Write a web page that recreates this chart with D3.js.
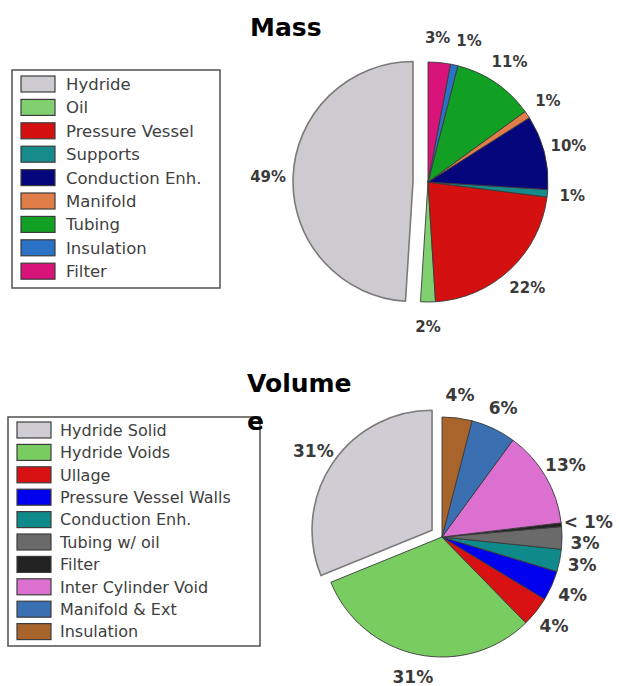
<!DOCTYPE html>
<html>
<head>
<meta charset="utf-8">
<script src="https://cdn.jsdelivr.net/npm/d3@7"></script>
<style>
  html, body { margin: 0; padding: 0; background: #fff; }
  svg { display: block; }
</style>
</head>
<body>
<svg id="chart" width="619" height="686"></svg>
<script>
// Mass breakdown (percent)
const massCategories = ["Hydride", "Oil", "Pressure Vessel", "Supports", "Conduction Enh.",
                        "Manifold", "Tubing", "Insulation", "Filter"];
const massValues = [49, 2, 22, 1, 10, 1, 11, 1, 3];
const massColors = ["#cdcbd0", "#80d070", "#d41010", "#178a8c", "#06067c",
                    "#e07d48", "#12a024", "#2a72c6", "#d8137a"];

// Volume breakdown (percent; Filter is below 1%)
const volumeCategories = ["Hydride Solid", "Hydride Voids", "Ullage", "Pressure Vessel Walls",
                          "Conduction Enh.", "Tubing w/ oil", "Filter", "Inter Cylinder Void",
                          "Manifold & Ext", "Insulation"];
const volumeValues = [31, 31, 4, 4, 3, 3, 0.5, 13, 6, 4];
const volumeColors = ["#cfcdd3", "#78cc60", "#d81212", "#0000ee", "#0f8a8a",
                      "#6a6a6a", "#222222", "#dc70d0", "#3a6fb2", "#a8642a"];

const svg = d3.select("#chart");
svg.append("rect").attr("width", 619).attr("height", 686).attr("fill", "#fff");

const fmt = v => v < 1 ? "< 1%" : Math.round(v) + "%";

function drawLegend(cats, colors, o) {
  const g = svg.append("g");
  g.append("rect")
    .attr("x", o.x).attr("y", o.y).attr("width", o.w).attr("height", o.h)
    .attr("fill", "#fff").attr("stroke", "#5a5a5a").attr("stroke-width", 1.6);
  const y = d3.scalePoint().domain(cats).range([o.row0, o.row0 + o.step * (cats.length - 1)]);
  const color = d3.scaleOrdinal().domain(cats).range(colors);
  const rows = g.selectAll("g.row").data(cats).join("g")
    .attr("transform", d => `translate(0,${y(d)})`);
  rows.append("rect")
    .attr("x", o.sx).attr("y", -8).attr("width", 34).attr("height", 16)
    .attr("fill", d => color(d)).attr("stroke", "#3c3c3c").attr("stroke-width", 1.2);
  rows.append("text")
    .attr("x", o.tx).attr("dy", "0.36em")
    .attr("font-family", "DejaVu Sans").attr("font-size", o.fs)
    .attr("fill", "#404040")
    .text(d => d);
}

function drawPie(cats, values, colors, o) {
  const g = svg.append("g").attr("transform", `translate(${o.cx},${o.cy})`);
  const color = d3.scaleOrdinal().domain(cats).range(colors);
  const pie = d3.pie().sort(null).value(d => d.v)
    .startAngle(0).endAngle(-2 * Math.PI);
  const arcs = pie(cats.map((c, i) => ({ c, v: values[i], i })));
  const arc = d3.arc().innerRadius(0).outerRadius(o.r);
  const labelArc = d3.arc().innerRadius(o.lr).outerRadius(o.lr);
  const shift = a => {
    if (a.data.i !== 0) return [0, 0];
    const m = (a.startAngle + a.endAngle) / 2;
    return [Math.sin(m) * o.explode, -Math.cos(m) * o.explode];
  };
  g.selectAll("path").data(arcs).join("path")
    .attr("d", arc)
    .attr("transform", d => `translate(${shift(d)})`)
    .attr("fill", d => color(d.data.c))
    .attr("stroke", d => d.data.i === 0 ? "#7a7a7a" : "#3a3a3a")
    .attr("stroke-width", d => d.data.i === 0 ? 1.6 : 0.9)
    .attr("stroke-linejoin", "round");

  // label positions, then nudge apart labels that collide
  const pos = arcs.map(a => {
    const c = labelArc.centroid(a), s = shift(a);
    const m = (a.startAngle + a.endAngle) / 2;
    return { a, m, x: c[0] + s[0], y: c[1] + s[1], t: fmt(a.data.v) };
  });
  const labels = g.selectAll("text").data(pos).join("text")
    .attr("text-anchor", "middle").attr("dy", "0.36em")
    .attr("font-family", "DejaVu Sans").attr("font-weight", "bold")
    .attr("font-size", o.fs).attr("fill", "#3a3a3a")
    .text(d => d.t);
  labels.each(function (d) { d.w = this.getComputedTextLength(); });
  // wider labels sit further out so they clear the rim
  const wRef = o.fs * 2.4;
  pos.forEach(d => { d.x += Math.sin(d.m) * Math.max(0, d.w - wRef) / 2; });
  // side labels stacked too tightly: push the lower one down
  const minGap = o.fs * 1.2;
  [1, -1].forEach(side => {
    const col = pos.filter(d => Math.sign(d.x) === side && Math.abs(Math.sin(d.m)) > 0.6)
      .sort((p, q) => p.y - q.y);
    for (let k = 1; k < col.length; k++) {
      const gap = col[k].y - col[k - 1].y;
      if (gap < minGap) col[k].y += minGap - gap;
    }
  });
  // top labels overlapping horizontally: spread them apart
  const hh = o.fs * 0.75;
  const byX = pos.filter(d => d.y < 0).sort((p, q) => p.x - q.x);
  for (let k = 1; k < byX.length; k++) {
    const p = byX[k - 1], q = byX[k];
    const ov = (p.x + p.w / 2) - (q.x - q.w / 2);
    if (ov > -4 && Math.abs(p.y - q.y) < hh) {
      const push = ov + 6;
      p.x -= push * 0.3;
      q.x += push * 0.7;
    }
  }
  labels.attr("x", d => d.x).attr("y", d => d.y);
}

function drawTitle(lines, x, y0, lh) {
  const t = svg.append("text")
    .attr("font-family", "DejaVu Sans").attr("font-weight", "bold")
    .attr("font-size", 25).attr("fill", "#000");
  lines.forEach((s, i) => t.append("tspan").attr("x", x).attr("y", y0 + i * lh).text(s));
}

// Mass chart
drawLegend(massCategories, massColors,
  { x: 12, y: 70, w: 208, h: 218, row0: 84, step: 23.4, sx: 21, tx: 66, fs: 16.5 });
drawPie(massCategories, massValues, massColors,
  { cx: 428, cy: 182, r: 120, explode: 15, lr: 145, fs: 15 });
drawTitle(["Mass"], 250, 36, 38);

// Volume chart
drawLegend(volumeCategories, volumeColors,
  { x: 8, y: 417, w: 252, h: 229, row0: 430, step: 22.4, sx: 17, tx: 60, fs: 16 });
drawPie(volumeCategories, volumeValues, volumeColors,
  { cx: 442, cy: 537, r: 120, explode: 12, lr: 143, fs: 17 });
drawTitle(["Volume", "e"], 247, 392, 38);
</script>
</body>
</html>
